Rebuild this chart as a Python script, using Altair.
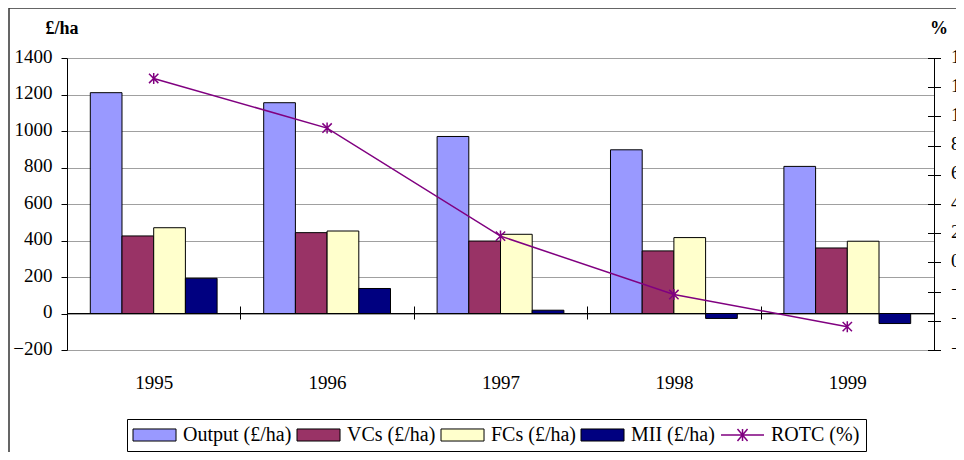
import altair as alt
import pandas as pd

SERIF = "Liberation Serif"

years = ["1995", "1996", "1997", "1998", "1999"]
output_vals = [1210, 1155, 970, 897, 806]
vcs_vals = [425, 443, 397, 343, 359]
fcs_vals = [470, 452, 434, 416, 396]
mii_vals = [193, 137, 18, -27, -55]
rotc_vals = [12.6, 9.2, 1.8, -2.2, -4.4]

series_names = ["Output (£/ha)", "VCs (£/ha)", "FCs (£/ha)", "MII (£/ha)", "ROTC (%)"]
series_colors = ["#9999FF", "#993366", "#FFFFCC", "#000080", "#800080"]
left_ticks = [-200, 0, 200, 400, 600, 800, 1000, 1200, 1400]
right_ticks = [-6, -4, -2, 0, 2, 4, 6, 8, 10, 12, 14]

rows = []
for name, vals in zip(series_names[:4], [output_vals, vcs_vals, fcs_vals, mii_vals]):
    for yr, v in zip(years, vals):
        rows.append({"Year": yr, "Series": name, "Value": v})
bar_df = pd.DataFrame(rows)
line_df = pd.DataFrame({"Year": years, "ROTC": rotc_vals})

LINE_COLOR = "#800080"
STAR = "M0,-1V1M-0.85,-0.85L0.85,0.85M-0.85,0.85L0.85,-0.85"
IS_ROTC = "datum.value === 'ROTC (%)'"
SHAPE_EXPR = (IS_ROTC + " ? "
              "'M-1.11,0H3.67M1.28,-0.67V0.67M0.72,-0.67L1.84,0.67M0.72,0.67L1.84,-0.67' : "
              "'M-1.11,-0.67H3.67V0.67H-1.11Z'")

legend = alt.Legend(
    title=None, orient="none", legendX=60, legendY=361, direction="horizontal",
    columns=5, strokeColor="black", fillColor="white", padding=6,
    labelFont=SERIF, labelFontSize=20, labelColor="black",
    symbolSize=324, labelOffset=30, columnPadding=3,
    symbolType=alt.ExprRef(expr=SHAPE_EXPR),
    symbolStrokeColor=alt.ExprRef(expr=IS_ROTC + " ? '" + LINE_COLOR + "' : 'black'"),
    symbolStrokeWidth=alt.ExprRef(expr=IS_ROTC + " ? 1.5 : 1"),
    symbolOpacity=1,
)

color_scale = alt.Scale(domain=series_names, range=series_colors)

left_axis = alt.Axis(values=left_ticks, grid=True, gridColor="#a0a0a0", gridWidth=1,
                     domain=True, domainColor="black", ticks=True, tickSize=6,
                     tickColor="black", labelFont=SERIF, labelFontSize=19,
                     labelColor="black", labelPadding=9, labelOffset=-2,
                     labelOverlap=False, format="d",
                     title="£/ha", titleAngle=0, titleAlign="left",
                     titleBaseline="alphabetic", titleX=-22, titleY=-25,
                     titleFont=SERIF, titleFontSize=18, titleFontWeight="bold",
                     titleColor="black")
left_scale = alt.Scale(domain=[-200, 1400], nice=False)

frame = alt.Chart(pd.DataFrame({"f": [0]})).mark_rect(
    fill="transparent", stroke="#333333", strokeWidth=1.5
).encode(x=alt.value(-58), x2=alt.value(960), y=alt.value(-50), y2=alt.value(420))

bars = alt.Chart(bar_df).mark_bar(stroke="black", strokeWidth=1).encode(
    x=alt.X("Year:N", scale=alt.Scale(paddingInner=0, paddingOuter=0),
            axis=alt.Axis(orient="bottom", offset=-44, domain=False, tickBand="extent",
                          tickSize=13, tickColor="black", tickWidth=1, labelAngle=0,
                          labelFont=SERIF, labelFontSize=19, labelColor="black",
                          labelPadding=54, title=None, grid=False)),
    xOffset=alt.XOffset("Series:N", sort=series_names[:4],
                        scale=alt.Scale(paddingInner=0, paddingOuter=0.735)),
    y=alt.Y("Value:Q", scale=left_scale, axis=left_axis),
    color=alt.Color("Series:N", scale=color_scale, legend=legend),
)

zero_rule = alt.Chart(pd.DataFrame({"z": [0]})).mark_rule(color="black", strokeWidth=1).encode(
    y=alt.Y(datum=0, scale=left_scale, axis=left_axis)
)

bar_group = alt.layer(bars, zero_rule)

y2_scale = alt.Scale(domain=[-6, 14], nice=False)

line = alt.Chart(line_df).mark_line(strokeWidth=1.5, color=LINE_COLOR).encode(
    x=alt.X("Year:N"),
    y=alt.Y("ROTC:Q", scale=y2_scale,
            axis=alt.Axis(orient="right", domain=True, domainColor="black", ticks=False,
                          labels=False, grid=False, title=None)),
)

points = alt.Chart(line_df).mark_point(shape=STAR, size=121, filled=False,
                                        strokeWidth=1.5, opacity=1, color=LINE_COLOR).encode(
    x=alt.X("Year:N"),
    y=alt.Y("ROTC:Q", scale=y2_scale,
            axis=alt.Axis(orient="right", offset=-6.5, domain=False, ticks=True, tickSize=13,
                          tickColor="black", values=right_ticks, grid=False,
                          labelFont=SERIF, labelFontSize=19, labelColor="black",
                          labelPadding=10, labelOffset=-2, labelOverlap=False,
                          title="%", titleAngle=0, titleAlign="left",
                          titleBaseline="alphabetic", titleX=2, titleY=-25,
                          titleFont=SERIF, titleFontSize=18, titleFontWeight="bold",
                          titleColor="black")),
)

line_group = alt.layer(line, points).resolve_axis(y="independent")

chart = alt.layer(frame, bar_group, line_group).resolve_scale(y="independent").properties(
    width=867, height=292,
    autosize=alt.AutoSizeParams(type="none"),
    padding={"left": 59, "top": 50, "right": 22, "bottom": 102},
    background="white",
).configure_view(stroke="transparent")

chart.save("out.html", embed_options={"renderer": "svg", "actions": False})
